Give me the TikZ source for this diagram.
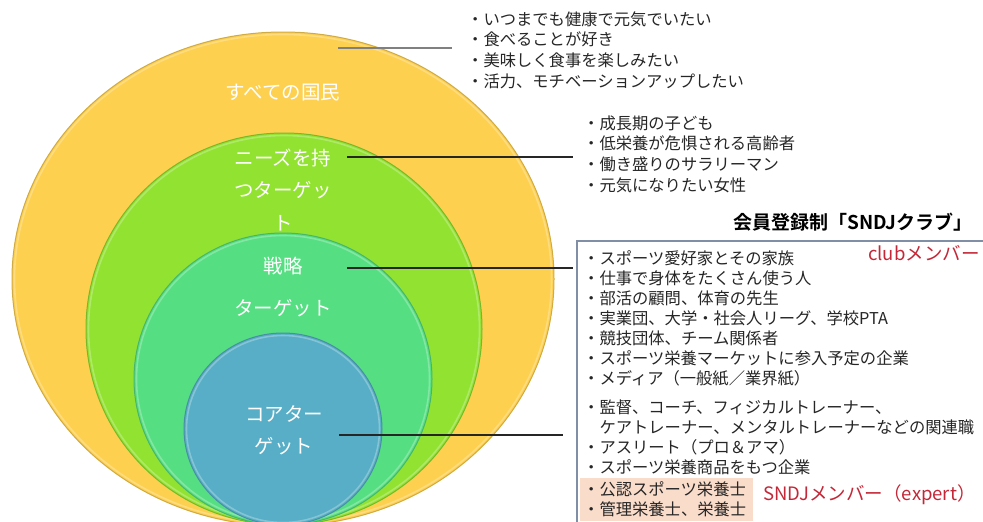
\documentclass[tikz,border=0pt]{standalone}
\usepackage{fontspec}
\newfontfamily\jp{Noto Sans CJK JP}[BoldFont={Noto Sans CJK JP Bold}]
\definecolor{cyel}{RGB}{254,208,80}
\definecolor{cgrn}{RGB}{146,226,50}
\definecolor{cteal}{RGB}{86,222,130}
\definecolor{cblue}{RGB}{87,174,198}
\definecolor{txtc}{RGB}{38,38,38}
\definecolor{redc}{RGB}{196,40,56}
\definecolor{boxc}{RGB}{128,143,166}
\definecolor{peach}{RGB}{249,220,202}
\begin{document}
\begin{tikzpicture}[x=1pt,y=-1pt,
  txt/.style={anchor=base west,inner sep=0pt,text=txtc,font=\jp\fontsize{16.3}{20}\selectfont},
  redtxt/.style={anchor=base west,inner sep=0pt,text=redc,font=\jp\fontsize{18.5}{22}\selectfont},
  lbl/.style={inner sep=0pt,text=white,align=center},
  conn/.style={draw=txtc,line width=1.1pt},
  ring/.style={line width=1pt},
  glow/.style={line width=1.6pt,opacity=0.45}]
\useasboundingbox (0,0) rectangle (983,522);
\fill[white] (0,0) rectangle (983,522);
% nested circles
\filldraw[fill=cyel,draw=cyel!82!black,ring] (283,279) ellipse [x radius=271pt, y radius=247pt];
\draw[glow,draw=cyel!40!white] (283,279) ellipse [x radius=268.5pt, y radius=244.5pt];
\filldraw[fill=cgrn,draw=cgrn!82!black,ring] (284,329) ellipse [x radius=198pt, y radius=196pt];
\draw[glow,draw=cgrn!40!white] (284,329) ellipse [x radius=195.5pt, y radius=193.5pt];
\filldraw[fill=cteal,draw=cteal!82!black,ring] (283,379) ellipse [x radius=149pt, y radius=146pt];
\draw[glow,draw=cteal!40!white] (283,379) ellipse [x radius=146.5pt, y radius=143.5pt];
\filldraw[fill=cblue,draw=cblue!82!black,ring] (283,429) ellipse [x radius=99pt, y radius=96pt];
\draw[glow,draw=cblue!40!white] (283,429) ellipse [x radius=96.5pt, y radius=93.5pt];
% circle labels
\node[lbl,font=\jp\fontsize{19.5}{24}\selectfont] (all) at (283,93) {すべての国民};
\node[lbl,font=\jp\fontsize{19.5}{32.5}\selectfont] (needs) at (283,190) {ニーズを持\\つターゲッ\\ト};
\node[lbl,font=\jp\fontsize{19.5}{42}\selectfont] (strat) at (283,287) {戦略\\ターゲット};
\node[lbl,font=\jp\fontsize{19.5}{32}\selectfont] (core) at (284,430) {コアター\\ゲット};
% connectors
\coordinate (c1s) at (338,48); \coordinate (c1e) at (452,48);
\coordinate (c2s) at (347,157); \coordinate (c2e) at (573,157);
\coordinate (c3s) at (347,268); \coordinate (c3e) at (573,268);
\coordinate (c4s) at (339,435); \coordinate (c4e) at (563,435);
\draw[conn,draw=gray] (c1s) -- (c1e);
\draw[conn] (c2s) -- (c2e);
\draw[conn] (c3s) -- (c3e);
\draw[conn] (c4s) -- (c4e);
% block 1
\foreach \t [count=\i] in {・いつまでも健康で元気でいたい,・食べることが好き,・美味しく食事を楽しみたい,・活力、モチベーションアップしたい}
  \node[txt] (a\i) at (467,{19+20.7*(\i-1)+6.2}) {\t};
% block 2
\foreach \t [count=\i] in {・成長期の子ども,・低栄養が危惧される高齢者,・働き盛りのサラリーマン,・元気になりたい女性}
  \node[txt] (b\i) at (583,{123+20.7*(\i-1)+6.2}) {\t};
% title
\node[anchor=base west,inner sep=0pt,text=black,font=\jp\bfseries\fontsize{19}{22}\selectfont] (title) at (733,229) {会員登録制「SNDJクラブ」};
% box
\fill[peach] (580,478) rectangle (753,521);
\draw[boxc,line width=1.6pt] (990,241) -| (577,530);
\node[redtxt] (club) at (868,260.5) {clubメンバー};
\foreach \t [count=\i] in {・スポーツ愛好家とその家族,・仕事で身体をたくさん使う人,・部活の顧問、体育の先生,・実業団、大学・社会人リーグ、学校PTA,・競技団体、チーム関係者,・スポーツ栄養マーケットに参入予定の企業,・メディア（一般紙／業界紙）}
  \node[txt] (m\i) at (583,{258+20*(\i-1)+6.2}) {\t};
\node[txt] (e1) at (583,413.2) {・監督、コーチ、フィジカルトレーナー、};
\node[txt] (e2) at (599.3,433.2) {ケアトレーナー、メンタルトレーナーなどの関連職};
\node[txt] (e3) at (583,453.2) {・アスリート（プロ＆アマ）};
\node[txt] (e4) at (583,473.2) {・スポーツ栄養商品をもつ企業};
\node[txt] (e5) at (583,495.2) {・公認スポーツ栄養士};
\node[txt] (e6) at (583,515.2) {・管理栄養士、栄養士};
\node[redtxt] (expert) at (763,500.5) {SNDJメンバー（expert）};
\end{tikzpicture}
\end{document}
